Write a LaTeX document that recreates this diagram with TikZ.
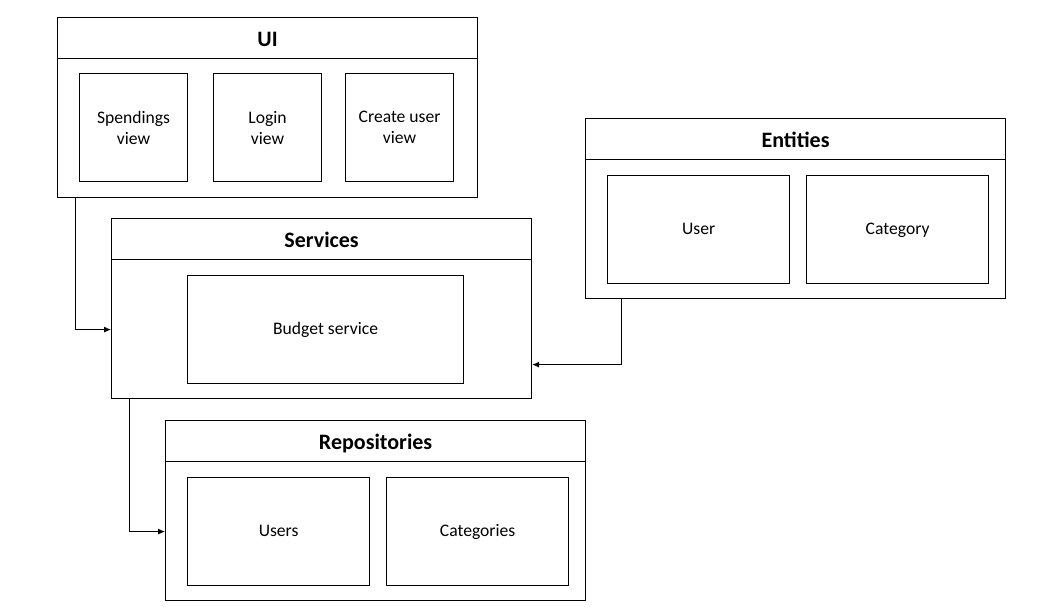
\documentclass[tikz,border=0pt]{standalone}
\usepackage{fontspec}
\setmainfont{Carlito}
\usetikzlibrary{arrows.meta,positioning}

\tikzset{
  layer/.style={draw,line width=1.2pt,minimum width=420pt,minimum height=180pt,anchor=north west,inner sep=0pt},
  header/.style={draw,line width=1.2pt,minimum width=420pt,minimum height=41pt,anchor=north west,text height=16pt,text depth=0pt,font=\fontsize{22}{26}\selectfont\bfseries},
  part/.style={draw,line width=1.2pt,anchor=north west,align=center,font=\fontsize{17.6}{21}\selectfont},
  oneline/.style={text height=10pt,text depth=0pt},
  conn/.style={line width=0.9pt,-{Latex[length=7pt,width=6pt]}}
}

\begin{document}
\begin{tikzpicture}[x=1pt,y=-1pt]
    \useasboundingbox (0,0) rectangle (1045,613);
    % layers
    \node[layer] (ui) at (57,17) {};
    \node[header] (uiTitle) at (ui.north west) {UI};
    \node[layer] (services) at (111,218) {};
    \node[header] (servicesTitle) at (services.north west) {Services};
    \node[layer] (entities) at (585,118) {};
    \node[header] (entitiesTitle) at (entities.north west) {Entities};
    \node[layer] (repos) at (165,420) {};
    \node[header] (reposTitle) at (repos.north west) {Repositories};
    % parts
    \node[part,minimum width=108pt,minimum height=108pt] (spendings) at (79,73) {Spendings\\view};
    \node[part,minimum width=108pt,minimum height=108pt] (login) at (213,73) {Login\\view};
    \node[part,minimum width=108pt,minimum height=108pt] (createUser) at (345,73) {Create user\\view};
    \node[part,oneline,minimum width=276pt,minimum height=108pt] (budget) at (187,275) {Budget service};
    \node[part,oneline,minimum width=182pt,minimum height=108pt] (user) at (607,175) {User};
    \node[part,oneline,minimum width=182pt,minimum height=108pt] (category) at (806,175) {Category};
    \node[part,oneline,minimum width=182pt,minimum height=108pt] (users) at (187,477) {Users};
    \node[part,oneline,minimum width=182pt,minimum height=108pt] (categories) at (386,477) {Categories};
    % connectors
    \draw[conn] ([xshift=18pt]ui.south west) |- (budget -| services.west);
    \draw[conn] ([xshift=36pt]entities.south west) |- ([yshift=-56pt]services.east);
    \draw[conn] ([xshift=18pt]services.south west) |- (users -| repos.west);
\end{tikzpicture}
\end{document}
